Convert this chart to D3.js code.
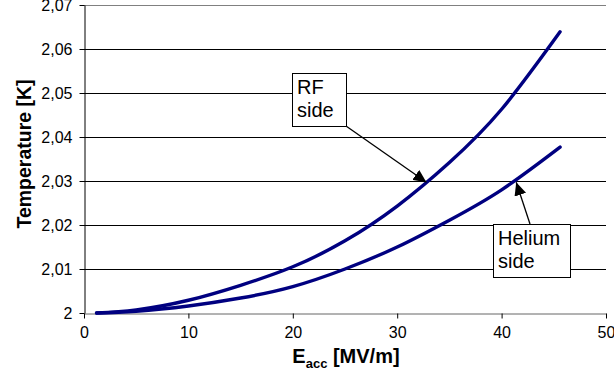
<!DOCTYPE html>
<html>
<head>
<meta charset="utf-8">
<script src="https://cdn.jsdelivr.net/npm/d3@7"></script>
<style>
  body { margin: 0; background: #fff; }
  text { font-family: "Liberation Sans", Arial, sans-serif; }
</style>
</head>
<body>
<script>
// values
var eacc   = [1.2, 5, 10, 15, 20, 25, 30, 35, 40, 45.6];
var rfSide = [2.0000, 2.0007, 2.0029, 2.0063, 2.0105, 2.0164, 2.0243, 2.0342, 2.0463, 2.0639];
var heSide = [2.0000, 2.0004, 2.0016, 2.0034, 2.0060, 2.0100, 2.0150, 2.0211, 2.0280, 2.0377];
var xTicks = [0, 10, 20, 30, 40, 50];
var yTicks = [2, 2.01, 2.02, 2.03, 2.04, 2.05, 2.06, 2.07];

var width = 614, height = 371;
var margin = {left: 84, right: 8, top: 5, bottom: 58};

var svg = d3.select("body").append("svg").attr("width", width).attr("height", height);

var x = d3.scaleLinear().domain([0, 50]).range([margin.left, width - margin.right]);
var y = d3.scaleLinear().domain([2, 2.07]).range([height - margin.bottom, margin.top]);

var fmt = function (d) { return d === 2 ? "2" : d3.format(".2f")(d).replace(".", ","); };

// gridlines
svg.append("g")
    .selectAll("line")
    .data(yTicks.slice(1))
    .enter()
    .append("line")
        .attr("x1", x(0)).attr("x2", x(50))
        .attr("y1", function (d) { return y(d) + 0.5; })
        .attr("y2", function (d) { return y(d) + 0.5; })
        .style("stroke", function (d) { return d === 2.07 ? "#808080" : "#000"; })
        .style("stroke-width", 1);

var xAxis = d3.axisBottom(x).tickValues(xTicks).tickSize(5).tickSizeOuter(0).tickPadding(8);
var yAxis = d3.axisLeft(y).tickValues(yTicks).tickFormat(fmt).tickSize(5).tickSizeOuter(0).tickPadding(7);

var gx = svg.append("g").attr("transform", "translate(0," + (y(2) + 0.5) + ")").call(xAxis);
var gy = svg.append("g").attr("transform", "translate(" + (x(0) + 0.5) + ",0)").call(yAxis);

[gx, gy].forEach(function (g) {
    g.selectAll("path, line").style("stroke", "#000");
    g.selectAll("text").style("font-size", "16px").style("fill", "#000")
        .style("font-family", "'Liberation Sans', Arial, sans-serif");
});
gx.select("path").style("stroke", "#666");

// curves
var line = d3.line()
    .x(function (d) { return x(d[0]); })
    .y(function (d) { return y(d[1]); })
    .curve(d3.curveNatural);

[rfSide, heSide].forEach(function (s) {
    svg.append("path")
        .datum(eacc.map(function (e, i) { return [e, s[i]]; }))
        .attr("d", line)
        .style("fill", "none")
        .style("stroke", "#000080")
        .style("stroke-width", 3.4)
        .style("stroke-linecap", "round");
});

// axis titles
var xt = svg.append("text")
    .attr("x", 346).attr("y", 363)
    .attr("text-anchor", "middle")
    .style("font-weight", "bold").style("font-size", "20px");
xt.append("tspan").text("E");
xt.append("tspan").attr("dy", 5).style("font-size", "13px").text("acc");
xt.append("tspan").attr("dy", -5).text(" [MV/m]");

svg.append("text")
    .attr("text-anchor", "middle")
    .attr("transform", "translate(31,154) rotate(-90)")
    .style("font-weight", "bold").style("font-size", "19.5px")
    .text("Temperature [K]");

// annotations
svg.append("defs").append("marker")
    .attr("id", "head")
    .attr("markerUnits", "userSpaceOnUse")
    .attr("markerWidth", 14).attr("markerHeight", 12)
    .attr("refX", 13).attr("refY", 6)
    .attr("orient", "auto")
    .append("path").attr("d", "M0,0 L13,6 L0,12 Z").style("fill", "#000");

var notes = [
    {lines: ["RF", "side"], box: [292, 73, 54, 53], from: [346, 126], to: [32.8, 2.0297]},
    {lines: ["Helium", "side"], box: [493, 224, 77, 53], from: [530, 224], to: [41.4, 2.0297]}
];

notes.forEach(function (n) {
    svg.append("line")
        .attr("x1", n.from[0]).attr("y1", n.from[1])
        .attr("x2", x(n.to[0])).attr("y2", y(n.to[1]))
        .style("stroke", "#000").style("stroke-width", 1.3)
        .attr("marker-end", "url(#head)");
    svg.append("rect")
        .attr("x", n.box[0] + 0.5).attr("y", n.box[1] + 0.5)
        .attr("width", n.box[2]).attr("height", n.box[3])
        .style("fill", "#fff").style("stroke", "#000").style("stroke-width", 1);
    n.lines.forEach(function (t, i) {
        svg.append("text")
            .attr("x", n.box[0] + 5).attr("y", n.box[1] + 21 + i * 23)
            .style("font-size", "20px")
            .text(t);
    });
});
</script>
</body>
</html>
